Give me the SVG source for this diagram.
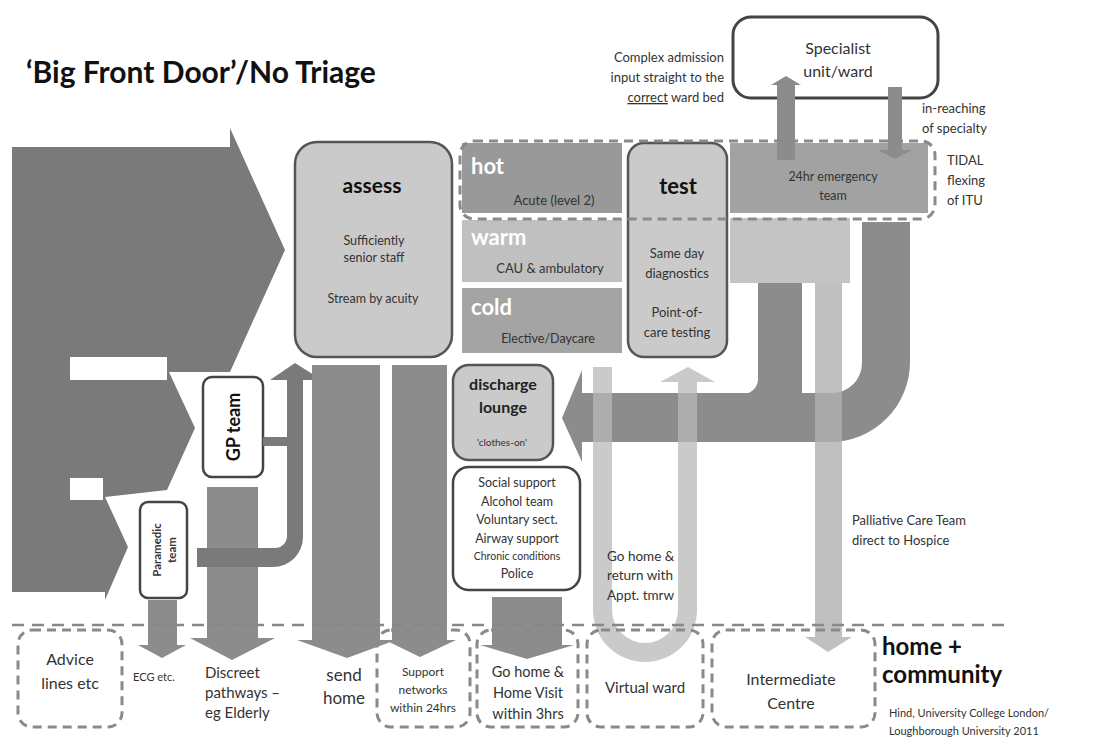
<svg xmlns="http://www.w3.org/2000/svg" width="1094" height="740" viewBox="0 0 1094 740">
<style>
.t{font-family:Lato,"Liberation Sans",sans-serif;fill:#333}
.c{text-anchor:middle}
.r{text-anchor:end}
.b{font-weight:bold}
.box{fill:#cacaca;stroke:#555;stroke-width:2.5}
.wbox{fill:#fff;stroke:#444;stroke-width:2.5}
.dbox{fill:none;stroke:#8a8a8a;stroke-width:3;stroke-dasharray:9 6}
.dark{fill:#7a7a7a}
.mid{fill:#8c8c8c}
</style>
<rect width="1094" height="740" fill="#fff"/>

<text class="t b" x="26" y="83" font-size="30" style="fill:#111">‘Big Front Door’/No Triage</text>

<g id="assess">
  <rect class="box" x="295" y="142" width="157" height="215" rx="22"/>
  <text class="t c b" x="372" y="193" font-size="21" style="fill:#111">assess</text>
  <text class="t c" x="374" y="245" font-size="12.5">Sufficiently</text>
  <text class="t c" x="374" y="262" font-size="12.5">senior staff</text>
  <text class="t c" x="373" y="303" font-size="12.5">Stream by acuity</text>
</g>

<g id="hot">
  <rect x="462" y="143" width="160" height="70" fill="#999"/>
  <text class="t b" x="471" y="174" font-size="22" style="fill:#fff">hot</text>
  <text class="t c" x="554" y="205" font-size="13">Acute (level 2)</text>
</g>
<g id="warm">
  <rect x="462" y="220" width="160" height="62" fill="#c0c0c0"/>
  <text class="t b" x="471" y="245" font-size="22" style="fill:#fff">warm</text>
  <text class="t c" x="550" y="273" font-size="13">CAU &amp; ambulatory</text>
</g>
<g id="cold">
  <rect x="462" y="288" width="160" height="65" fill="#a4a4a4"/>
  <text class="t b" x="471" y="315" font-size="22" style="fill:#fff">cold</text>
  <text class="t c" x="548" y="343" font-size="12.5">Elective/Daycare</text>
</g>

<g id="test">
  <rect class="box" x="628" y="143" width="99" height="214" rx="16"/>
  <text class="t c b" x="678" y="194" font-size="22" style="fill:#111">test</text>
  <text class="t c" x="677" y="258" font-size="13">Same day</text>
  <text class="t c" x="677" y="278" font-size="13">diagnostics</text>
  <text class="t c" x="677" y="317" font-size="13">Point-of-</text>
  <text class="t c" x="677" y="337" font-size="13">care testing</text>
</g>

<g id="emergency">
  <rect x="730" y="143" width="198" height="70" fill="#a2a2a2"/>
  <rect x="730" y="218" width="120" height="65" fill="#c4c4c4"/>
  <text class="t c" x="833" y="181" font-size="12.5">24hr emergency</text>
  <text class="t c" x="833" y="200" font-size="12.5">team</text>
</g>

<g id="specialist">
  <rect class="wbox" x="733" y="17" width="205" height="81" rx="18" style="stroke-width:3"/>
  <text class="t c" x="838" y="54" font-size="16">Specialist</text>
  <text class="t c" x="838" y="77" font-size="16">unit/ward</text>
</g>

<g id="gp-team">
  <rect class="wbox" x="203" y="377" width="60" height="100" rx="9"/>
  <text class="t c b" transform="translate(240 427) rotate(-90)" font-size="18" style="fill:#111">GP team</text>
</g>
<g id="paramedic-team">
  <rect class="wbox" x="140" y="502" width="47" height="96" rx="8"/>
  <text class="t c b" transform="translate(161 550) rotate(-90)" font-size="11.5">Paramedic</text>
  <text class="t c b" transform="translate(176 550) rotate(-90)" font-size="11.5">team</text>
</g>

<g id="discharge-lounge">
  <rect class="box" x="453" y="365" width="100" height="95" rx="16"/>
  <text class="t c b" x="503" y="390" font-size="16" style="fill:#222">discharge</text>
  <text class="t c b" x="503" y="413" font-size="16" style="fill:#222">lounge</text>
  <text class="t c" x="502" y="446" font-size="10">'clothes-on'</text>
</g>

<g id="social-support">
  <rect class="wbox" x="453" y="467" width="127" height="123" rx="16"/>
  <text class="t c" x="517" y="487" font-size="12.5">Social support</text>
  <text class="t c" x="517" y="506" font-size="12.5">Alcohol team</text>
  <text class="t c" x="517" y="524" font-size="12.5">Voluntary sect.</text>
  <text class="t c" x="517" y="543" font-size="12.5">Airway support</text>
  <text class="t c" x="517" y="560" font-size="10.5">Chronic conditions</text>
  <text class="t c" x="517" y="578" font-size="12.5">Police</text>
</g>

<g id="connectors">
  <!-- big inflow arrows -->
  <path class="dark" d="M12 147 H230 V128 L285 250 L230 372 H169 L195 428 L167 490 L105 497 L128 547 L105 600 V592 H12 Z"/>
  <rect x="70" y="357" width="97" height="23" fill="#fff"/>
  <rect x="70" y="478" width="33" height="22" fill="#fff"/>
  <!-- GP pathway down -->
  <path class="mid" d="M207 487 H258 V638 H275 L232 660 L190 638 H207 Z"/>
  <!-- paramedic ECG down -->
  <path class="mid" d="M148 600 H177 V645 H186 L162 658 L138 645 H148 Z"/>
  <!-- GP connector -->
  <rect class="dark" x="263" y="437" width="26" height="9"/>
  <!-- paramedic curved arrow to assess -->
  <path class="dark" d="M197 548 L275 548 A12 12 0 0 0 287 536 L287 380 L270 380 L295 363 L322 380 L303 380 L303 537 A30 30 0 0 1 273 567 L197 567 Z"/>
  <!-- send home -->
  <path class="mid" d="M312 365 H380 V640 H396 L347 658 L297 640 H312 Z"/>
  <!-- support networks -->
  <path class="mid" d="M392 365 H447 V640 H456 L420 657 L385 640 H392 Z"/>
  <!-- go home visit -->
  <path class="mid" d="M492 597 H562 V645 H574 L527 659 L480 645 H492 Z"/>
  <!-- return arrow to discharge lounge -->
  <path class="mid" d="M862 222 L910 222 L910 362 A80 80 0 0 1 830 442 L582 442 L582 462 L562 418 L582 370 L582 393 L832 393 A30 30 0 0 0 862 363 Z"/>
  <rect class="mid" x="758" y="283" width="44" height="112"/>
  <path class="mid" d="M758 378 L758 394 L743 394 A15 15 0 0 0 758 378 Z"/>
  <!-- palliative -->
  <path fill="#b0b0b0" opacity="0.8" d="M815 283 H842 V637 H852 L828 652 L805 637 H815 Z"/>
  <!-- go home & return U -->
  <path fill="#b8b8b8" opacity="0.75" d="M593 367 L612 367 L612 610 A33 33 0 0 0 678 610 L678 382 L660 382 L688 367 L715 382 L697 382 L697 610 A52 52 0 0 1 593 610 Z"/>
  <!-- specialist up/down -->
  <path class="mid" d="M777 160 V85 H771 L786 76 L801 85 H795 V160 Z"/>
  <path class="mid" d="M888 87 H902 V150 H912 L895 159 L878 150 H888 Z"/>
</g>

<g id="tidal">
  <rect class="dbox" x="460" y="141" width="475" height="78" rx="14"/>
  <text class="t" x="947" y="165" font-size="13">TIDAL</text>
  <text class="t" x="947" y="185" font-size="13">flexing</text>
  <text class="t" x="947" y="205" font-size="13">of ITU</text>
</g>

<g id="complex-note">
  <text class="t r" x="724" y="62" font-size="13">Complex admission</text>
  <text class="t r" x="724" y="82" font-size="13">input straight to the</text>
  <text class="t r" x="724" y="102" font-size="13"><tspan text-decoration="underline">correct</tspan> ward bed</text>
</g>
<g id="inreach-note">
  <text class="t" x="922" y="113" font-size="13">in-reaching</text>
  <text class="t" x="922" y="133" font-size="13">of specialty</text>
</g>

<g id="go-home-return">
  <text class="t" x="607" y="561" font-size="13.5">Go home &amp;</text>
  <text class="t" x="607" y="580" font-size="13.5">return with</text>
  <text class="t" x="607" y="600" font-size="13.5">Appt. tmrw</text>
</g>

<g id="palliative">
  <text class="t" x="852" y="525" font-size="13">Palliative Care Team</text>
  <text class="t" x="852" y="545" font-size="13">direct to Hospice</text>
</g>

<line x1="12" y1="625" x2="1006" y2="625" stroke="#888" stroke-width="2.5" stroke-dasharray="12 8"/>

<g id="advice-lines">
  <rect class="dbox" x="18" y="630" width="104" height="97" rx="14"/>
  <text class="t c" x="70" y="665" font-size="16">Advice</text>
  <text class="t c" x="70" y="689" font-size="16">lines etc</text>
</g>
<g id="ecg">
  <text class="t c" x="154" y="681" font-size="11">ECG etc.</text>
</g>
<g id="discreet-pathways">
  <text class="t" x="205" y="678" font-size="15">Discreet</text>
  <text class="t" x="205" y="698" font-size="15">pathways –</text>
  <text class="t" x="205" y="718" font-size="15">eg Elderly</text>
</g>
<g id="send-home">
  <text class="t c" x="344" y="681" font-size="17">send</text>
  <text class="t c" x="344" y="704" font-size="17">home</text>
</g>
<g id="support-networks">
  <rect class="dbox" x="377" y="630" width="93" height="97" rx="14"/>
  <text class="t c" x="423" y="676" font-size="12">Support</text>
  <text class="t c" x="423" y="694" font-size="12">networks</text>
  <text class="t c" x="423" y="712" font-size="12">within 24hrs</text>
</g>
<g id="home-visit">
  <rect class="dbox" x="477" y="630" width="101" height="97" rx="14"/>
  <text class="t c" x="528" y="677" font-size="14.5">Go home &amp;</text>
  <text class="t c" x="528" y="698" font-size="14.5">Home Visit</text>
  <text class="t c" x="528" y="719" font-size="14.5">within 3hrs</text>
</g>
<g id="virtual-ward">
  <rect class="dbox" x="587" y="630" width="116" height="97" rx="14"/>
  <text class="t c" x="645" y="693" font-size="15">Virtual ward</text>
</g>
<g id="intermediate-centre">
  <rect class="dbox" x="712" y="630" width="163" height="97" rx="14"/>
  <text class="t c" x="791" y="685" font-size="16">Intermediate</text>
  <text class="t c" x="791" y="709" font-size="16">Centre</text>
</g>
<g id="home-community">
  <text class="t b" x="882" y="655" font-size="24" style="fill:#111">home +</text>
  <text class="t b" x="882" y="683" font-size="24" style="fill:#111">community</text>
</g>
<g id="credit">
  <text class="t" x="889" y="717" font-size="11">Hind, University College London/</text>
  <text class="t" x="889" y="735" font-size="11">Loughborough University 2011</text>
</g>
</svg>
